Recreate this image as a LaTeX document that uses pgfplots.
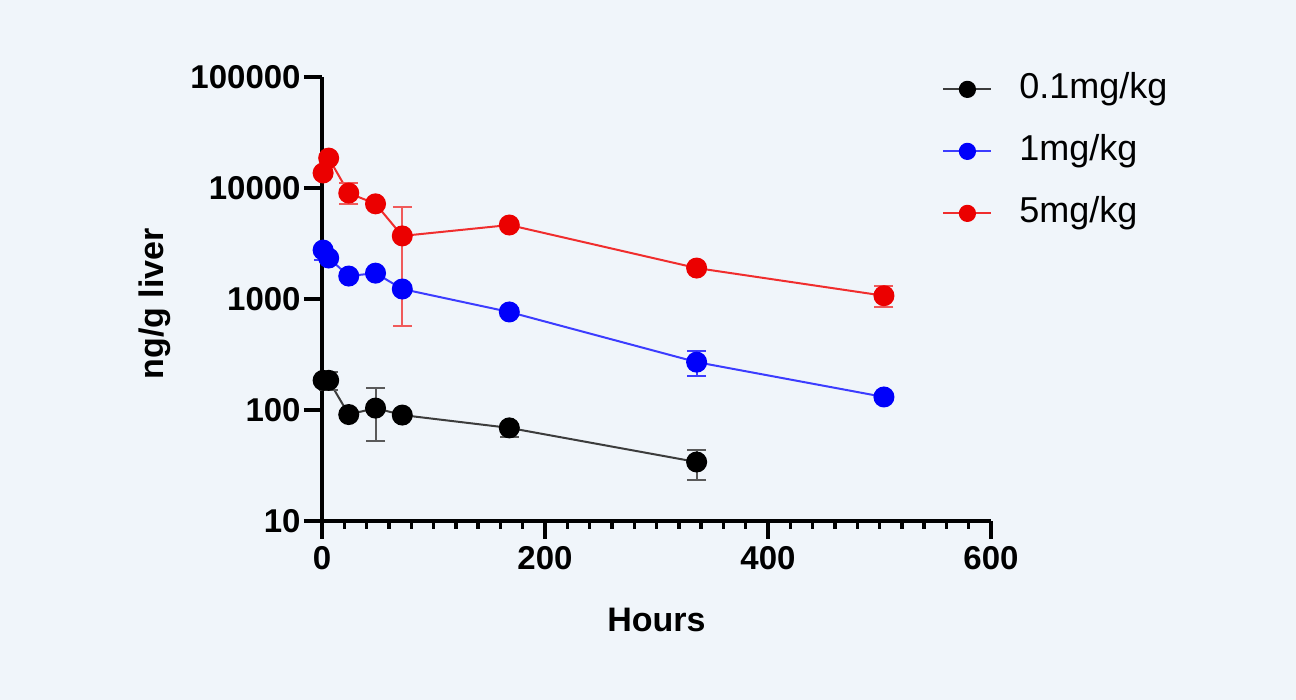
\documentclass[border=0pt]{standalone}
\usepackage{pgfplots}
\pgfplotsset{compat=1.18}
\usepackage{pgfplotstable}
\usepackage{fontspec}
\setmainfont{Liberation Sans}
\definecolor{bg}{RGB}{240,245,250}
\definecolor{rline}{RGB}{240,45,45}
\definecolor{rmark}{RGB}{235,0,0}
\definecolor{rerr}{RGB}{240,90,90}
\definecolor{bline}{RGB}{60,60,255}
\definecolor{bmark}{RGB}{0,0,250}
\definecolor{kline}{RGB}{60,60,60}
\definecolor{kerr}{RGB}{90,90,90}

\pgfplotstableread{
t y ep em
1 185 0 0
6 185 35 35
24 91 0 0
48 104 54 51
72 90 0 0
168 69 0 12
336 34 10 10.5
}\lowdose
\pgfplotstableread{
t y ep em
1 2760 0 500
6 2340 0 0
24 1610 0 0
48 1710 0 0
72 1230 0 0
168 764 0 0
336 270 70 68
504 131 0 0
}\middose
\pgfplotstableread{
t y ep em
1 13650 0 0
6 18600 0 0
24 9000 2100 1850
48 7200 0 0
72 3700 3000 3130
168 4640 0 0
336 1900 0 0
504 1070 240 220
}\highdose

\begin{document}
\begin{tikzpicture}
\fill[bg] (0,0) rectangle (648pt,350pt);
\begin{axis}[
  at={(161pt,89.5pt)}, anchor=south west,
  width=334.5pt, height=222pt, scale only axis,
  ymode=log, ymin=10, ymax=100000,
  xmin=0, xmax=600,
  axis x line*=bottom, axis y line*=left,
  axis line style={line width=2.4pt},
  xtick={0,200,400,600}, xticklabels={0,200,400,600},
  ytick={10,100,1000,10000,100000},
  yticklabels={10,100,1000,10000,100000},
  minor x tick num=9,
  yminorticks=false,
  tick align=outside,
  major tick length=9pt, minor tick length=4pt,
  major tick style={line width=2.4pt, black},
  minor tick style={line width=1.7pt, black},
  ticklabel style={font=\bfseries\fontsize{16.5}{18}\selectfont},
  yticklabel style={inner sep=1.5pt},
  xlabel={Hours}, ylabel={ng/g liver},
  label style={font=\bfseries\fontsize{17}{19}\selectfont},
  xlabel style={at={(axis description cs:0.5,-0.223)}, anchor=center},
  ylabel style={at={(axis description cs:-0.2496,0.489)}, anchor=center},
  clip=false,
  legend style={draw=none, fill=none, at={(axis description cs:0.9268,1.0113)},
    anchor=north west, inner sep=0pt, column sep=13.5pt, row sep=14pt,
    font=\fontsize{18}{20}\selectfont,
    nodes={inner sep=0pt, text height=13pt, text depth=4pt}},
  legend cell align=left,
  legend image code/.code={\draw[mark repeat=2,mark phase=2,#1,mark size=3.8pt] plot coordinates {(0pt,0pt) (12pt,0pt) (24pt,0pt)};},
]
\addplot[kline, line width=1pt, mark=*, mark size=4.75pt, mark options={fill=black, draw=black},
  error bars/.cd, y dir=both, y explicit, error bar style={kerr, line width=1pt},
  error mark options={kerr, rotate=90, mark size=4.75pt, line width=1pt}]
  table[x=t, y=y, y error plus=ep, y error minus=em] {\lowdose};
\addlegendentry{0.1mg/kg}
\addplot[bline, line width=1pt, mark=*, mark size=4.75pt, mark options={fill=bmark, draw=bmark},
  error bars/.cd, y dir=both, y explicit, error bar style={bline, line width=1pt},
  error mark options={bline, rotate=90, mark size=4.75pt, line width=1pt}]
  table[x=t, y=y, y error plus=ep, y error minus=em] {\middose};
\addlegendentry{1mg/kg}
\addplot[rline, line width=1pt, mark=*, mark size=4.75pt, mark options={fill=rmark, draw=rmark},
  error bars/.cd, y dir=both, y explicit, error bar style={rerr, line width=1pt},
  error mark options={rerr, rotate=90, mark size=4.75pt, line width=1pt}]
  table[x=t, y=y, y error plus=ep, y error minus=em] {\highdose};
\addlegendentry{5mg/kg}
\end{axis}
\end{tikzpicture}
\end{document}
